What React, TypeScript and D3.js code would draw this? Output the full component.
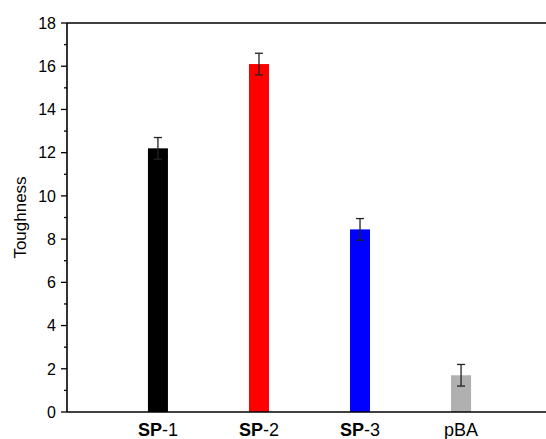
import React from "react";
import * as d3 from "d3";

const categories = ["SP-1", "SP-2", "SP-3", "pBA"];
const toughness = [12.2, 16.1, 8.45, 1.7];
const errors = [0.5, 0.5, 0.5, 0.5];
const barColors = ["#000000", "#ff0000", "#0000ff", "#b0b0b0"];
const yTicks = [0, 2, 4, 6, 8, 10, 12, 14, 16, 18];

const W = 546;
const H = 439;
const left = 67;
const top = 23;
const bottom = 412;

export default function App() {
  const x = d3.scaleLinear().domain([0.1, 4.9]).range([left, 552]);
  const y = d3.scaleLinear().domain([0, 18]).range([bottom, top]);
  const minor = d3.range(1, 18, 2);
  const barW = 20;
  const font = "Arial, 'Liberation Sans', sans-serif";

  return (
    <svg width={W} height={H} style={{ position: "absolute", left: 0, top: 0, background: "#fff" }} fontFamily={font}>
      {toughness.map((v, i) => (
        <rect key={i} x={x(i + 1) - barW / 2} y={y(v)} width={barW} height={y(0) - y(v)} fill={barColors[i]} />
      ))}
      {toughness.map((v, i) => {
        const cx = x(i + 1);
        return (
          <g key={i} stroke="#222" strokeWidth={1.3}>
            <line x1={cx} x2={cx} y1={y(v - errors[i])} y2={y(v + errors[i])} />
            <line x1={cx - 4} x2={cx + 4} y1={y(v + errors[i])} y2={y(v + errors[i])} />
            <line x1={cx - 4} x2={cx + 4} y1={y(v - errors[i])} y2={y(v - errors[i])} />
          </g>
        );
      })}
      <line x1={left} x2={W} y1={top} y2={top} stroke="#000" strokeWidth={1.6} />
      <line x1={left} x2={W} y1={bottom} y2={bottom} stroke="#000" strokeWidth={1.6} />
      <line x1={left} x2={left} y1={top} y2={bottom} stroke="#000" strokeWidth={1.6} />
      {yTicks.map((t) => (
        <g key={t}>
          <line x1={left - 6} x2={left} y1={y(t)} y2={y(t)} stroke="#000" strokeWidth={1.3} />
          <text x={left - 11} y={y(t)} dy="0.36em" textAnchor="end" fontSize={16}>
            {t}
          </text>
        </g>
      ))}
      {minor.map((t) => (
        <line key={t} x1={left - 3} x2={left} y1={y(t)} y2={y(t)} stroke="#000" strokeWidth={1.3} />
      ))}
      {categories.map((c, i) => {
        const parts = c.split("-");
        return (
          <text key={c} x={x(i + 1)} y={436} textAnchor="middle" fontSize={18}>
            {parts.length > 1 ? (
              <>
                <tspan fontWeight="bold">{parts[0]}</tspan>
                <tspan>-{parts[1]}</tspan>
              </>
            ) : (
              c
            )}
          </text>
        );
      })}
      <text transform={`translate(26,${(top + bottom) / 2}) rotate(-90)`} textAnchor="middle" fontSize={17}>
        Toughness
      </text>
    </svg>
  );
}
